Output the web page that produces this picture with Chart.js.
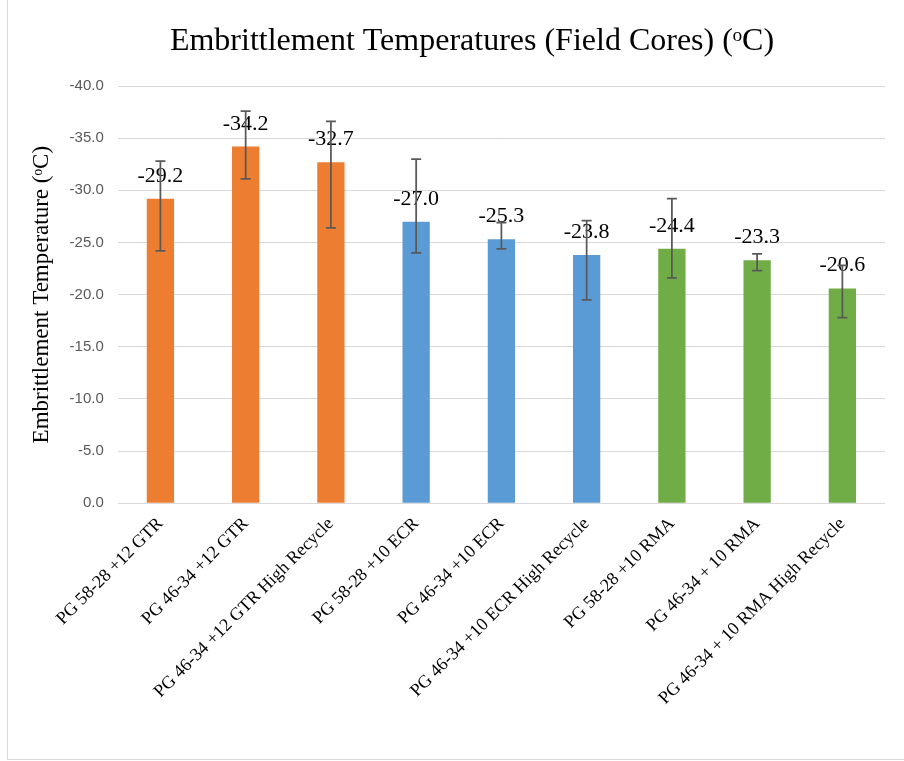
<!DOCTYPE html>
<html><head><meta charset="utf-8">
<script src="https://cdn.jsdelivr.net/npm/chart.js@4.4.1/dist/chart.umd.min.js"></script>
<style>
html,body{margin:0;padding:0;background:#fff;}
#wrap{position:absolute;left:0;top:0;width:904px;height:761px;}
#frame{position:absolute;left:7px;top:-2px;width:1000px;height:762px;border:1px solid #d9d9d9;box-sizing:border-box;}
canvas{position:absolute;left:0;top:0;}
</style></head>
<body>
<div id="wrap"><div id="frame"></div><canvas id="c" width="904" height="761"></canvas></div>
<script>
const titleText = 'Embrittlement Temperatures (Field Cores) (ᵒC)';
const categories = ["PG 58-28 +12 GTR","PG 46-34 +12 GTR","PG 46-34 +12 GTR High Recycle","PG 58-28 +10 ECR","PG 46-34 +10 ECR","PG 46-34 +10 ECR High Recycle","PG 58-28 +10 RMA","PG 46-34 + 10 RMA","PG 46-34 + 10 RMA High Recycle"];
const values = [-29.2,-34.2,-32.7,-27.0,-25.3,-23.8,-24.4,-23.3,-20.6];
const errUpper = [-32.8,-37.6,-36.6,-33.0,-26.9,-27.1,-29.2,-23.9,-22.8];
const errLower = [-24.2,-31.1,-26.4,-24.0,-24.4,-19.5,-21.6,-22.3,-17.8];
const barColors = ["#ED7D31","#ED7D31","#ED7D31","#5B9BD5","#5B9BD5","#5B9BD5","#70AD47","#70AD47","#70AD47"];
const yTicks = [-40,-35,-30,-25,-20,-15,-10,-5,0];

const overlay = {
  id:'overlay',
  afterDatasetsDraw(chart){
    const ctx = chart.ctx, ys = chart.scales.y;
    const meta = chart.getDatasetMeta(0);
    ctx.save();
    ctx.font = '22px "Liberation Serif", "Times New Roman", serif';
    ctx.fillStyle = '#000';
    ctx.textAlign = 'center';
    ctx.textBaseline = 'alphabetic';
    meta.data.forEach((bar,i)=>{
      ctx.fillText(values[i].toFixed(1), bar.x, bar.y - 17);
    });
    ctx.strokeStyle = '#595959';
    ctx.lineWidth = 1.75;
    meta.data.forEach((bar,i)=>{
      const y1 = ys.getPixelForValue(errUpper[i]);
      const y2 = ys.getPixelForValue(errLower[i]);
      ctx.beginPath();
      ctx.moveTo(bar.x, y1); ctx.lineTo(bar.x, y2);
      ctx.moveTo(bar.x-5, y1); ctx.lineTo(bar.x+5, y1);
      ctx.moveTo(bar.x-5, y2); ctx.lineTo(bar.x+5, y2);
      ctx.stroke();
    });
    // chart title
    ctx.font = '32px "Liberation Serif", "Times New Roman", serif';
    ctx.textAlign = 'center';
    ctx.textBaseline = 'middle';
    ctx.fillText(titleText, 472, 42);
    ctx.restore();
  }
};

new Chart(document.getElementById('c'), {
  type:'bar',
  data:{labels:categories, datasets:[{data:values, backgroundColor:barColors, barPercentage:0.32, categoryPercentage:1}]},
  options:{
    responsive:false, animation:false,
    layout:{padding:{left:24,right:19,top:86,bottom:42}},
    plugins:{
      legend:{display:false}, tooltip:{enabled:false}, title:{display:false}
    },
    scales:{
      y:{reverse:true, min:-40, max:0,
        afterBuildTicks(s){ s.ticks = yTicks.map(v=>({value:v})); },
        ticks:{callback:v=>Number(v).toFixed(1), color:'#595959', padding:14,
          font:{family:'"Liberation Sans", Arial, sans-serif', size:15}},
        grid:{color:'#d9d9d9', lineWidth:1, drawTicks:false},
        border:{display:false},
        title:{display:true, text:'Embrittlement Temperature (ᵒC)', color:'#000',
          font:{family:'"Liberation Serif", "Times New Roman", serif', size:23, weight:'normal'}, padding:{bottom:0}}
      },
      x:{
        grid:{display:false, drawTicks:false},
        border:{display:false},
        ticks:{minRotation:45, maxRotation:45, color:'#000', padding:10, autoSkip:false,
          font:{family:'"Liberation Serif", "Times New Roman", serif', size:18}}
      }
    }
  },
  plugins:[overlay]
});
</script>
</body></html>
